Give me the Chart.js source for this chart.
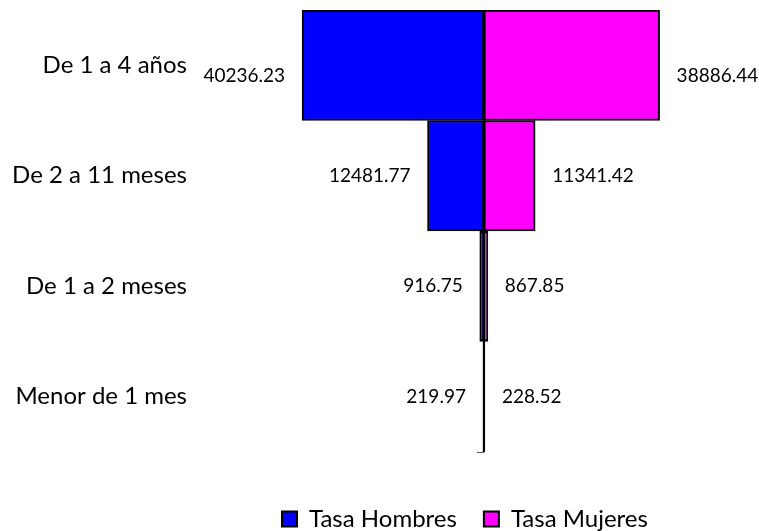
<!DOCTYPE html>
<html>
<head>
<meta charset="utf-8">
<script src="https://cdn.jsdelivr.net/npm/chart.js@4.4.0/dist/chart.umd.min.js"></script>
<style>
  html, body { margin: 0; padding: 0; background: #fff; }
</style>
</head>
<body>
<canvas id="pyramid" width="759" height="531"></canvas>
<script>
// Data
const ageGroups = ['De 1 a 4 años', 'De 2 a 11 meses', 'De 1 a 2 meses', 'Menor de 1 mes'];
const tasaHombres = [40236.23, 12481.77, 916.75, 219.97];
const tasaMujeres = [38886.44, 11341.42, 867.85, 228.52];
const seriesNames = ['Tasa Hombres', 'Tasa Mujeres'];

const FONT = 'Lato';

// Value labels just outside the end of each bar
const valueLabels = {
    id: 'valueLabels',
    afterDatasetsDraw(chart) {
        const ctx = chart.ctx;
        ctx.save();
        ctx.font = '19px ' + FONT;
        ctx.fillStyle = '#000';
        ctx.textBaseline = 'middle';
        chart.data.datasets.forEach((ds, i) => {
            const meta = chart.getDatasetMeta(i);
            const raw = i === 0 ? tasaHombres : tasaMujeres;
            meta.data.forEach((bar, j) => {
                const toLeft = bar.x < bar.base;
                const yOff = j === 0 ? 11 : 0; // top row labels sit a bit lower in the original
                ctx.textAlign = toLeft ? 'right' : 'left';
                ctx.fillText(raw[j].toFixed(2), bar.x + (toLeft ? -17 : 17), bar.y + yOff);
            });
        });
        ctx.restore();
    }
};

// Vertical axis line at zero, with the little tick at its foot
const centerAxis = {
    id: 'centerAxis',
    afterDatasetsDraw(chart) {
        const ctx = chart.ctx;
        const area = chart.chartArea;
        const x0 = Math.round(chart.scales.x.getPixelForValue(0));
        ctx.save();
        ctx.strokeStyle = '#000';
        ctx.lineWidth = 2;
        ctx.beginPath();
        ctx.moveTo(x0, area.top);
        ctx.lineTo(x0, area.bottom);
        ctx.stroke();
        ctx.strokeStyle = '#555';
        ctx.lineWidth = 1;
        ctx.beginPath();
        ctx.moveTo(x0 - 7, area.bottom + 0.5);
        ctx.lineTo(x0, area.bottom + 0.5);
        ctx.stroke();
        ctx.restore();
    }
};

// Move the legend row to where the original has it (under the bars, near the bottom edge)
const legendPlace = {
    id: 'legendPlace',
    afterLayout(chart) {
        const lg = chart.legend;
        const dx = 282 - 27 - lg.left;
        const dy = 10;
        lg.left += dx;
        lg.right += dx;
        lg.top += dy;
        lg.bottom += dy;
    }
};

const ctx = document.getElementById('pyramid').getContext('2d');
const chart = new Chart(ctx, {
    type: 'bar',
    data: {
        labels: ageGroups,
        datasets: [{
            label: seriesNames[0],
            data: tasaHombres.map(v => -v),
            backgroundColor: '#0000ff',
            borderColor: '#000',
            borderWidth: 2,
            borderSkipped: false
        }, {
            label: seriesNames[1],
            data: tasaMujeres,
            backgroundColor: '#ff00ff',
            borderColor: '#000',
            borderWidth: 2,
            borderSkipped: false
        }]
    },
    options: {
        indexAxis: 'y',
        responsive: false,
        animation: false,
        barPercentage: 1,
        categoryPercentage: 1,
        layout: { padding: { top: 10, right: 4, left: 0, bottom: 0 } },
        scales: {
            x: {
                stacked: true,
                min: -50000,
                max: 60000,
                grid: { display: false },
                border: { display: false },
                ticks: { display: false },
                afterFit: s => { s.height = 18; }
            },
            y: {
                stacked: true,
                grid: { display: false, drawTicks: false },
                border: { display: false },
                ticks: {
                    color: '#000',
                    padding: 71,
                    font: { family: FONT, size: 24 }
                },
                afterFit: s => {
                    s.width = 258;
                    // tick padding would otherwise also pad the chart top and bottom
                    s.paddingTop = 0;
                    s.paddingBottom = 0;
                }
            }
        },
        plugins: {
            tooltip: { enabled: false },
            legend: {
                position: 'bottom',
                align: 'start',
                labels: {
                    color: '#000',
                    boxWidth: 15,
                    boxHeight: 15,
                    padding: 27,
                    font: { family: FONT, size: 24 }
                }
            }
        }
    },
    plugins: [valueLabels, centerAxis, legendPlace]
});
</script>
</body>
</html>
